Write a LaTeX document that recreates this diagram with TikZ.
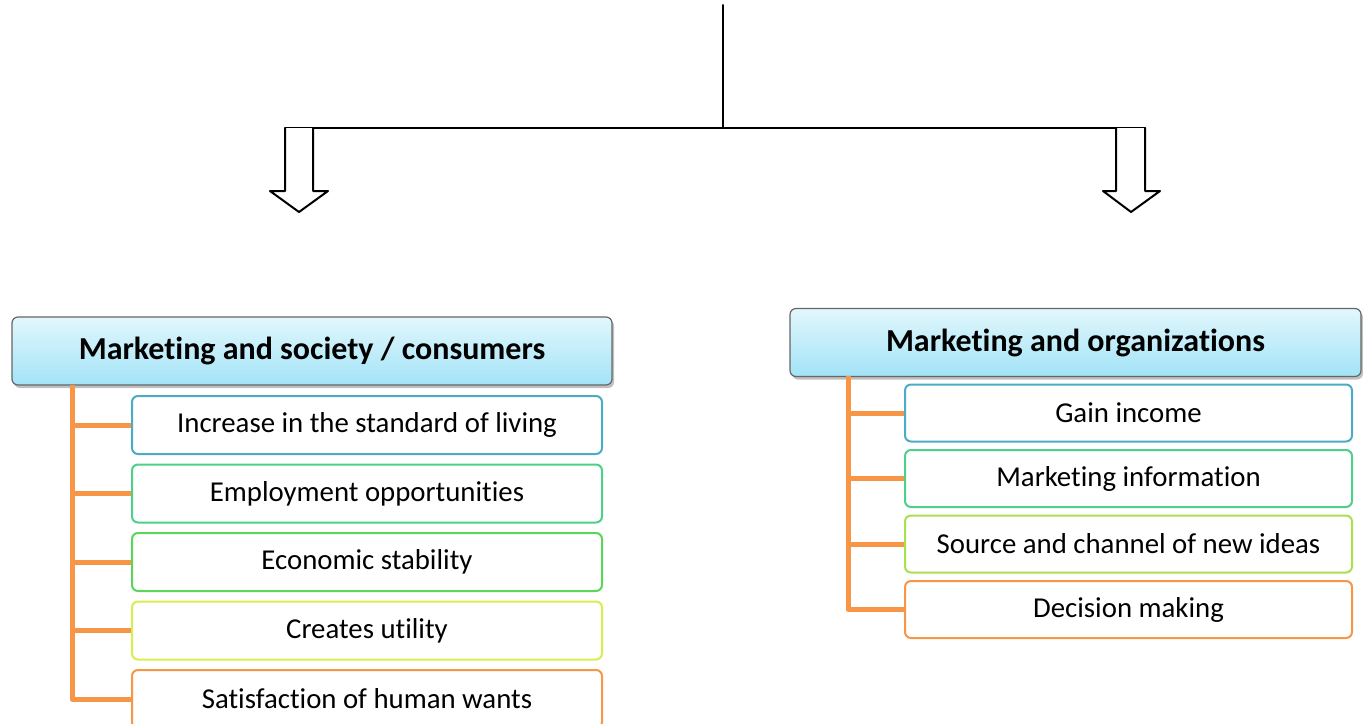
\documentclass[tikz,border=0pt]{standalone}
\usepackage{fontspec}
\setmainfont{Carlito}[Ligatures=NoCommon]
\usetikzlibrary{shadows}
\definecolor{treeorange}{HTML}{F79646}
\definecolor{edgeblue}{HTML}{4BACC6}
\definecolor{edgeteal}{HTML}{4CD08A}
\definecolor{edgegreen}{HTML}{5AD65A}
\definecolor{edgelime}{HTML}{D6EF4E}
\definecolor{edgeyell}{HTML}{A8E04E}
\definecolor{headtop}{HTML}{E2F7FC}
\definecolor{headbot}{HTML}{A2E3F7}
\begin{document}
\begin{tikzpicture}[line cap=round,line join=round,x=0.5pt,y=-0.5pt,
  headbox/.style={draw=gray!80!black,line width=0.6pt,rounded corners=3pt,
    top color=headtop,bottom color=headbot,
    drop shadow={shadow xshift=1pt,shadow yshift=-1.5pt,opacity=0.5},
    minimum height=34pt,font=\bfseries\fontsize{16}{18}\selectfont},
  itembox/.style={draw,fill=white,line width=1pt,rounded corners=3pt,
    minimum height=29pt,font=\fontsize{14.4}{16}\selectfont},
  branch/.style={draw=treeorange,line width=2.5pt,line cap=butt},
  hollow/.style={draw,line width=1pt,fill=white}]
\useasboundingbox (0,0) rectangle (1363,723);
\clip (0,0) rectangle (1363,723);

% top split
\coordinate (top) at (723,5);
\coordinate (hub) at (723,128);
\draw[line width=1pt] (top) -- (hub);
\draw[line width=1pt] (285,128) -- (1145,128);

% hollow arrows
\draw[hollow] (285,128) -- (285,191) -- (270,191) -- (299,212)
  -- (328,191) -- (313,191) -- (313,128);
\draw[hollow] (1116,128) -- (1116,191) -- (1103,191) -- (1131,212)
  -- (1160,191) -- (1145,191) -- (1145,128);

% left column
\node[headbox,minimum width=300pt] (lhead) at (312,351) {Marketing and society / consumers};
\coordinate (lroot) at (72,385);
\foreach \c/\txt [count=\i] in {edgeblue/Increase in the standard of living,
    edgeteal/Employment opportunities,
    edgegreen/Economic stability,
    edgelime/Creates utility,
    treeorange/Satisfaction of human wants}{
  \node[itembox,draw=\c,minimum width=235pt] (l\i) at (367,{425+(\i-1)*68.5}) {\txt};
  \draw[branch] (lroot) |- (l\i.west);
}

% right column
\node[headbox,minimum width=285.5pt] (rhead) at (1075.5,342.5) {Marketing and organizations};
\coordinate (rroot) at (848,376);
\foreach \c/\txt [count=\i] in {edgeblue/Gain income,
    edgeteal/Marketing information,
    edgeyell/Source and channel of new ideas,
    treeorange/Decision making}{
  \node[itembox,draw=\c,minimum width=223.5pt,minimum height=28.5pt] (r\i) at (1128.5,{413+(\i-1)*65.5}) {\txt};
  \draw[branch] (rroot) |- (r\i.west);
}
\end{tikzpicture}
\end{document}
